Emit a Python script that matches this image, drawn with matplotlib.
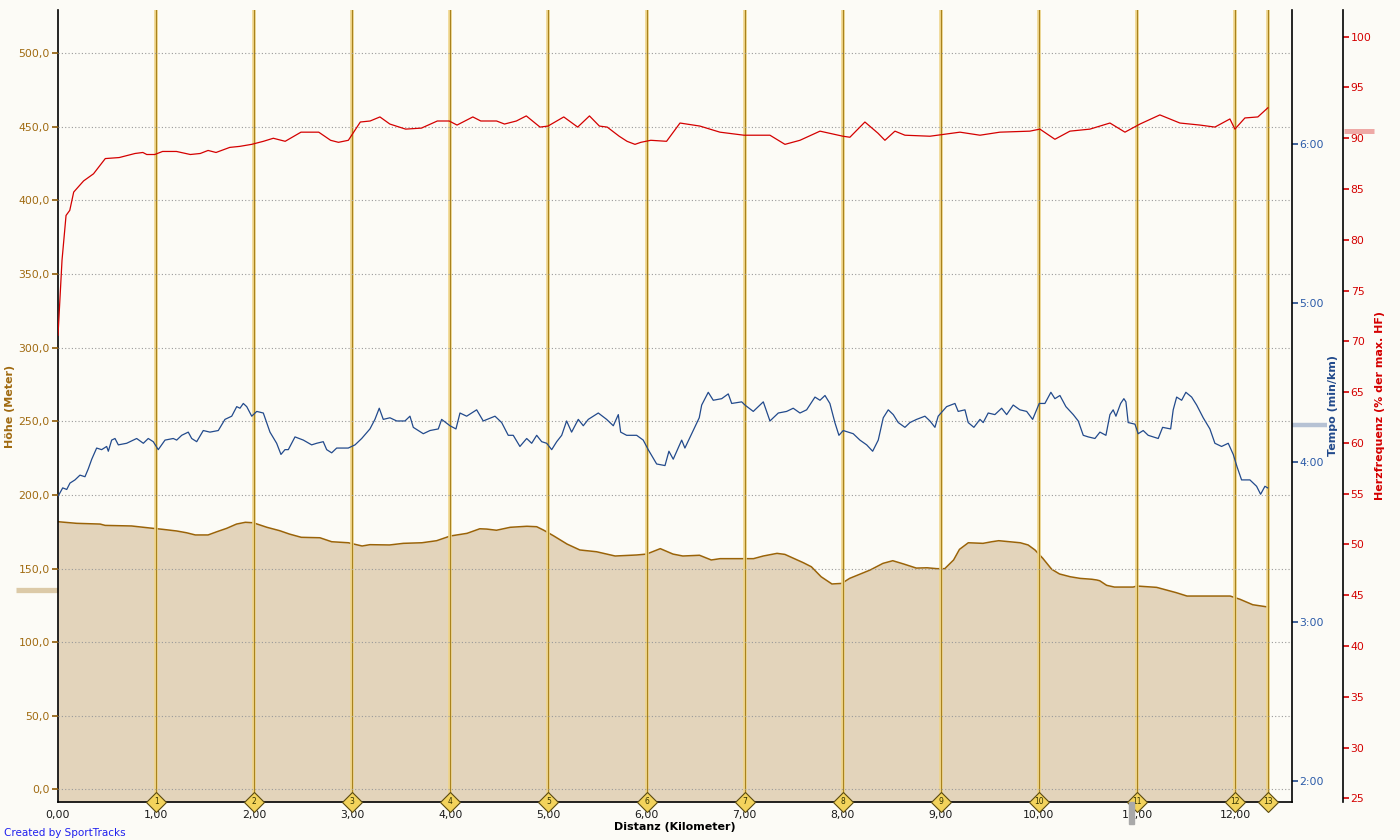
import matplotlib
matplotlib.use("Agg")
import matplotlib.pyplot as plt
from matplotlib.ticker import FuncFormatter, FixedLocator
from matplotlib.transforms import blended_transform_factory
from matplotlib.patches import Rectangle

# --- Hoehe (Meter) ueber Distanz (km)
elev_km = [0.00, 0.19, 0.43, 0.48, 0.75, 0.94, 1.07, 1.21, 1.31, 1.40, 1.53, 1.62, 1.72, 1.82,
           1.91, 1.99, 2.13, 2.26, 2.36, 2.48, 2.67, 2.79, 2.96, 3.10, 3.18, 3.38, 3.52, 3.71,
           3.86, 4.00, 4.17, 4.30, 4.37, 4.47, 4.61, 4.78, 4.88, 4.95, 5.05, 5.19, 5.32, 5.49,
           5.68, 5.90, 6.00, 6.14, 6.27, 6.37, 6.54, 6.66, 6.75, 7.09, 7.19, 7.33, 7.41, 7.60,
           7.68, 7.78, 7.89, 7.99, 8.07, 8.28, 8.41, 8.51, 8.62, 8.75, 8.86, 8.96, 9.04, 9.13,
           9.19, 9.28, 9.43, 9.52, 9.59, 9.70, 9.81, 9.89, 9.96, 10.04, 10.13, 10.21, 10.32,
           10.42, 10.54, 10.59, 10.62, 10.69, 10.77, 10.96, 11.00, 11.20, 11.30, 11.40, 11.51,
           11.95, 12.05, 12.18, 12.32, 12.34]
elev_m = [181.8, 180.7, 180.2, 179.3, 178.9, 177.5, 176.6, 175.5, 174.3, 172.8, 172.8, 175.0,
          177.3, 180.2, 181.4, 181.1, 178.0, 175.7, 173.4, 171.2, 170.9, 168.2, 167.5, 165.3,
          166.2, 166.0, 167.1, 167.5, 168.9, 172.1, 173.9, 177.0, 176.8, 176.0, 178.0, 178.7,
          178.4, 176.1, 172.3, 166.6, 162.6, 161.4, 158.5, 159.2, 159.8, 163.5, 159.8, 158.5,
          159.0, 155.8, 156.7, 156.7, 158.5, 160.3, 159.6, 153.9, 151.2, 144.4, 139.5, 139.9,
          143.3, 149.0, 153.5, 155.3, 153.1, 150.3, 150.5, 149.9, 149.9, 155.8, 163.0, 167.5,
          167.1, 168.2, 168.9, 168.2, 167.5, 166.0, 162.6, 156.9, 149.5, 146.3, 144.4, 143.3,
          142.7, 142.2, 141.7, 138.6, 137.4, 137.4, 138.1, 137.2, 135.4, 133.6, 131.3, 131.3,
          129.1, 125.4, 124.0, 124.0]

# --- Tempo (min/km, dezimal)
tempo_km = [0.003, 0.048, 0.089, 0.122, 0.173, 0.224, 0.275, 0.309, 0.344, 0.394, 0.445, 0.496,
            0.513, 0.547, 0.581, 0.615, 0.700, 0.802, 0.870, 0.920, 0.971, 1.022, 1.091, 1.175,
            1.210, 1.261, 1.328, 1.363, 1.414, 1.481, 1.549, 1.634, 1.702, 1.771, 1.822, 1.855,
            1.889, 1.924, 1.975, 2.026, 2.093, 2.161, 2.229, 2.273, 2.314, 2.348, 2.416, 2.501,
            2.586, 2.637, 2.704, 2.739, 2.790, 2.841, 2.892, 2.959, 3.028, 3.096, 3.180, 3.231,
            3.275, 3.316, 3.384, 3.453, 3.537, 3.588, 3.622, 3.724, 3.792, 3.877, 3.911, 3.996,
            4.057, 4.098, 4.166, 4.268, 4.335, 4.455, 4.523, 4.590, 4.641, 4.709, 4.778, 4.829,
            4.880, 4.931, 4.982, 5.033, 5.084, 5.135, 5.185, 5.236, 5.304, 5.355, 5.406, 5.508,
            5.593, 5.661, 5.712, 5.736, 5.797, 5.899, 5.966, 6.017, 6.103, 6.188, 6.228, 6.272,
            6.358, 6.391, 6.460, 6.537, 6.562, 6.629, 6.680, 6.766, 6.833, 6.868, 6.970, 7.003,
            7.088, 7.190, 7.258, 7.343, 7.428, 7.495, 7.564, 7.632, 7.717, 7.768, 7.819, 7.869,
            7.920, 7.961, 8.005, 8.107, 8.175, 8.244, 8.305, 8.362, 8.413, 8.464, 8.515, 8.566,
            8.634, 8.685, 8.753, 8.838, 8.889, 8.940, 8.973, 9.059, 9.144, 9.177, 9.246, 9.279,
            9.337, 9.399, 9.432, 9.483, 9.551, 9.620, 9.671, 9.738, 9.806, 9.875, 9.936, 10.003,
            10.061, 10.122, 10.163, 10.214, 10.275, 10.350, 10.401, 10.452, 10.503, 10.571,
            10.622, 10.683, 10.724, 10.757, 10.785, 10.833, 10.866, 10.887, 10.910, 10.979,
            11.012, 11.063, 11.114, 11.216, 11.261, 11.343, 11.369, 11.404, 11.455, 11.498,
            11.557, 11.608, 11.675, 11.743, 11.794, 11.862, 11.930, 11.981, 12.021, 12.066,
            12.151, 12.219, 12.260, 12.304, 12.332]
tempo = [3.79, 3.84, 3.83, 3.87, 3.89, 3.92, 3.91, 3.96, 4.02, 4.09, 4.08, 4.10, 4.07, 4.14,
         4.15, 4.11, 4.12, 4.15, 4.12, 4.15, 4.13, 4.08, 4.14, 4.15, 4.14, 4.17, 4.19, 4.15,
         4.13, 4.20, 4.19, 4.20, 4.27, 4.29, 4.35, 4.34, 4.37, 4.35, 4.29, 4.32, 4.31, 4.19,
         4.12, 4.05, 4.08, 4.08, 4.16, 4.14, 4.11, 4.12, 4.13, 4.08, 4.06, 4.09, 4.09, 4.09,
         4.11, 4.15, 4.21, 4.27, 4.34, 4.27, 4.28, 4.26, 4.26, 4.29, 4.22, 4.18, 4.20, 4.21,
         4.27, 4.23, 4.21, 4.31, 4.29, 4.33, 4.26, 4.29, 4.25, 4.17, 4.17, 4.10, 4.15, 4.12,
         4.17, 4.13, 4.12, 4.08, 4.13, 4.17, 4.26, 4.19, 4.27, 4.23, 4.27, 4.31, 4.27, 4.23,
         4.30, 4.19, 4.17, 4.17, 4.14, 4.08, 3.99, 3.98, 4.07, 4.02, 4.14, 4.09, 4.18, 4.28,
         4.36, 4.44, 4.39, 4.40, 4.43, 4.37, 4.38, 4.36, 4.32, 4.38, 4.26, 4.31, 4.32, 4.34,
         4.31, 4.33, 4.41, 4.39, 4.42, 4.37, 4.25, 4.17, 4.20, 4.18, 4.14, 4.11, 4.07, 4.14,
         4.28, 4.33, 4.30, 4.25, 4.22, 4.25, 4.27, 4.29, 4.26, 4.22, 4.29, 4.35, 4.37, 4.32,
         4.33, 4.25, 4.22, 4.27, 4.25, 4.31, 4.30, 4.34, 4.30, 4.36, 4.33, 4.32, 4.27, 4.37,
         4.37, 4.44, 4.40, 4.42, 4.35, 4.30, 4.26, 4.17, 4.16, 4.15, 4.19, 4.17, 4.30, 4.33,
         4.29, 4.37, 4.40, 4.38, 4.25, 4.24, 4.18, 4.20, 4.17, 4.15, 4.22, 4.21, 4.33, 4.41,
         4.39, 4.44, 4.41, 4.36, 4.28, 4.21, 4.12, 4.10, 4.12, 4.05, 3.97, 3.89, 3.89, 3.85,
         3.80, 3.85, 3.84]

# --- Herzfrequenz (% der max. HF)
hr_km = [0.000, 0.041, 0.082, 0.120, 0.160, 0.261, 0.362, 0.482, 0.624, 0.785, 0.865, 0.905,
         0.986, 1.066, 1.208, 1.349, 1.450, 1.530, 1.611, 1.751, 1.852, 1.974, 2.094, 2.195,
         2.316, 2.477, 2.658, 2.779, 2.859, 2.960, 3.082, 3.182, 3.282, 3.383, 3.544, 3.705,
         3.867, 3.988, 4.068, 4.229, 4.310, 4.471, 4.552, 4.673, 4.774, 4.914, 4.995, 5.156,
         5.298, 5.418, 5.519, 5.599, 5.721, 5.801, 5.882, 5.942, 6.043, 6.204, 6.341, 6.544,
         6.748, 6.993, 7.258, 7.411, 7.564, 7.768, 8.002, 8.073, 8.226, 8.359, 8.430, 8.532,
         8.634, 8.889, 9.195, 9.399, 9.602, 9.908, 10.010, 10.163, 10.316, 10.520, 10.724,
         10.877, 11.030, 11.233, 11.437, 11.641, 11.794, 11.947, 11.998, 12.100, 12.232, 12.334]
hr = [70.6, 78.0, 82.4, 82.9, 84.7, 85.8, 86.5, 88.0, 88.1, 88.5, 88.6, 88.4, 88.4, 88.7, 88.7,
      88.4, 88.5, 88.8, 88.6, 89.1, 89.2, 89.4, 89.7, 90.0, 89.7, 90.6, 90.6, 89.8, 89.6, 89.8,
      91.6, 91.7, 92.1, 91.4, 90.9, 91.0, 91.7, 91.7, 91.3, 92.1, 91.7, 91.7, 91.4, 91.7, 92.2,
      91.1, 91.2, 92.1, 91.1, 92.2, 91.2, 91.1, 90.2, 89.7, 89.4, 89.6, 89.8, 89.7, 91.5, 91.2,
      90.6, 90.3, 90.3, 89.4, 89.8, 90.7, 90.2, 90.1, 91.6, 90.5, 89.8, 90.7, 90.3, 90.2, 90.6,
      90.3, 90.6, 90.7, 90.9, 89.9, 90.7, 90.9, 91.5, 90.6, 91.4, 92.3, 91.5, 91.3, 91.1, 91.9,
      90.9, 92.0, 92.1, 93.0]

# Kilometermarken (1..12 + Ende)
lap_km = [1, 2, 3, 4, 5, 6, 7, 8, 9, 10, 11, 12, 12.34]
lap_labels = [str(i) for i in range(1, 14)]

avg_elev = 135.7
avg_tempo = 4.235
avg_hr = 90.76

bg = "#fcfbf6"
brown = "#8f5c06"
brown_txt = "#a06a10"
blue = "#224a8c"
red = "#d40000"

plt.rcParams["font.family"] = ["DejaVu Sans"]

fig = plt.figure(figsize=(14, 8.4), dpi=100, facecolor=bg)
ax = fig.add_axes([58 / 1400, 38 / 840, 1234 / 1400, 792 / 840])
ax.set_facecolor(bg)

y0, y1 = -8.6, 529.4
ax.set_xlim(0, 12.58)
ax.set_ylim(y0, y1)

ax.fill_between(elev_km, elev_m, y0, color="#e3d4bb", lw=0, zorder=1)
ax.plot(elev_km, elev_m, color="#9a6308", lw=1.1, zorder=1.5)

ax.set_yticks(range(0, 501, 50))
ax.yaxis.set_major_formatter(FuncFormatter(lambda v, p: f"{v:.1f}".replace(".", ",")))
ax.set_axisbelow(False)
ax.yaxis.grid(True, linestyle=(0, (1, 2)), color="#9a9a9a", lw=0.8)
ax.tick_params(axis="y", colors=brown, labelcolor=brown_txt, length=4, width=1.2,
               labelsize=7.8, pad=2)

ax.set_xticks(range(0, 13))
ax.xaxis.set_major_formatter(FuncFormatter(lambda v, p: f"{v:.2f}".replace(".", ",")))
ax.tick_params(axis="x", length=0, labelsize=7.8, labelcolor="#1a1a1a", pad=6)
ax.set_xlabel("Distanz (Kilometer)", fontsize=8, fontweight="bold", color="black", labelpad=1)

ax.set_ylabel("Höhe (Meter)", fontsize=8, fontweight="bold", color=brown_txt)
ax.yaxis.set_label_coords(-0.035, 0.5)

for s in ["top", "right"]:
    ax.spines[s].set_visible(False)
ax.spines["left"].set_linewidth(1.2)
ax.spines["bottom"].set_linewidth(1.2)

# Kilometerlinien
for k in lap_km:
    ax.axvline(k, color="#efd58a", lw=2.6, zorder=2)
    ax.axvline(k, color="#a8821e", lw=0.8, zorder=2.1)
ax.plot(lap_km, [y0] * len(lap_km), "D", ms=10, mfc="#f3d35c", mec="#5a4a10", mew=0.8,
        clip_on=False, zorder=6)
for k, lab in zip(lap_km, lap_labels):
    ax.text(k, y0, lab, fontsize=5.5, ha="center", va="center", color="#333300",
            clip_on=False, zorder=7)

# Mittelwert Hoehe
tr = blended_transform_factory(ax.transAxes, ax.transData)
ax.plot([-42 / 1234, 0], [avg_elev, avg_elev], transform=tr, color="#dccaa8", lw=3.8,
        solid_capstyle="butt", clip_on=False)

# Tempo-Achse
ax_t = ax.twinx()
ax_t.set_ylim(1.868, 6.840)
ax_t.plot(tempo_km, tempo, color=blue, lw=0.9)
ax_t.yaxis.set_major_locator(FixedLocator([2, 3, 4, 5, 6]))
ax_t.yaxis.set_major_formatter(FuncFormatter(lambda v, p: f"{int(v)}:{int(round((v % 1) * 60)):02d}"))
ax_t.tick_params(axis="y", colors=blue, labelcolor="#2a5aa8", length=4, width=1.2,
                 labelsize=7.8, pad=1.5)
ax_t.set_ylabel("Tempo (min/km)", fontsize=8, fontweight="bold", color=blue)
ax_t.yaxis.set_label_coords(1.0292, 0.5)
for s in ["top", "left", "bottom"]:
    ax_t.spines[s].set_visible(False)
ax_t.spines["right"].set_linewidth(1.2)
tr_t = blended_transform_factory(ax_t.transAxes, ax_t.transData)
ax_t.plot([1.0, 1.0284], [avg_tempo, avg_tempo], transform=tr_t, color="#b6c2d4", lw=3.2,
          solid_capstyle="butt", clip_on=False)

# Herzfrequenz-Achse
ax_h = ax.twinx()
ax_h.spines["right"].set_position(("axes", 1 + 51 / 1234))
ax_h.set_ylim(24.64, 102.63)
ax_h.plot(hr_km, hr, color=red, lw=0.9)
ax_h.set_yticks(range(25, 101, 5))
ax_h.tick_params(axis="y", colors=red, labelcolor=red, length=4, width=1.2,
                 labelsize=7.8, pad=1.5)
ax_h.set_ylabel("Herzfrequenz (% der max. HF)", fontsize=8, fontweight="bold", color=red)
ax_h.yaxis.set_label_coords(1.0673, 0.5)
for s in ["top", "left", "bottom"]:
    ax_h.spines[s].set_visible(False)
ax_h.spines["right"].set_linewidth(1.2)
tr_h = blended_transform_factory(ax_h.transAxes, ax_h.transData)
ax_h.plot([1 + 52 / 1234, 1 + 82 / 1234], [avg_hr, avg_hr], transform=tr_h, color="#eea9a6",
          lw=3.6, solid_capstyle="butt", clip_on=False)

fig.patches.append(Rectangle((1129 / 1400, 16 / 840), 5 / 1400, 22 / 840,
                             transform=fig.transFigure, color="#a9a9a9"))
fig.text(4 / 1400, 2 / 840, "Created by SportTracks", fontsize=7.5, color="#2020ee",
         ha="left", va="bottom")

fig.savefig("out.png", dpi=100, facecolor=bg)
